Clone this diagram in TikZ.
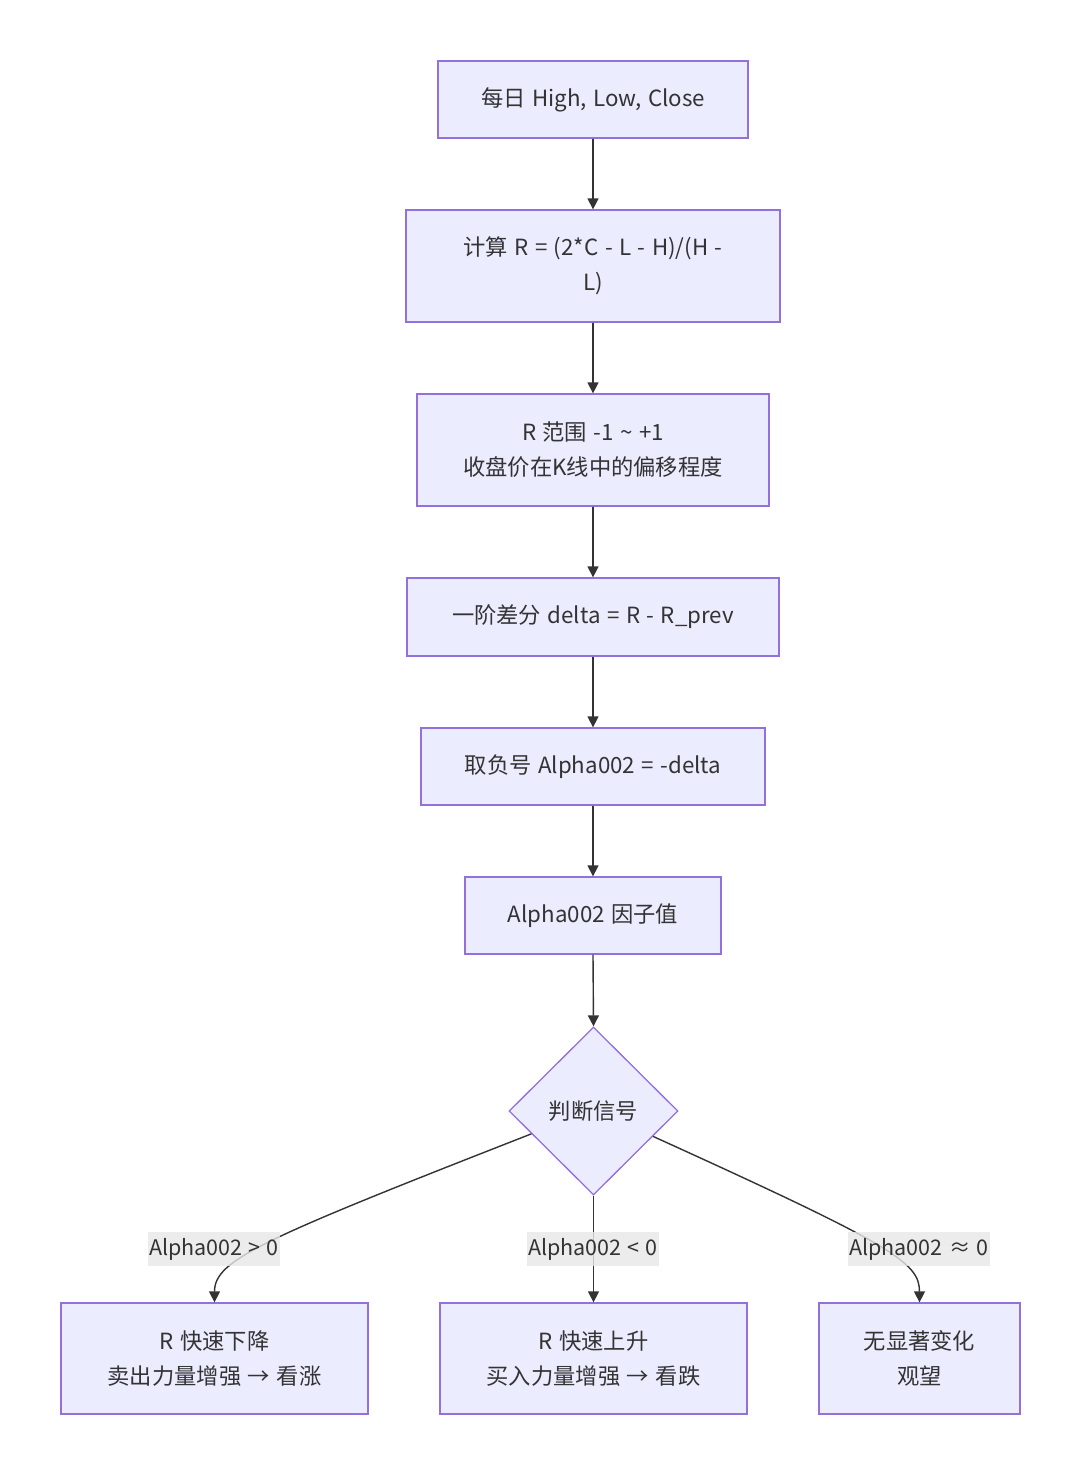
\documentclass[tikz,border=0pt]{standalone}
\usepackage{fontspec}
\setmainfont[WordSpace=1.3]{Noto Sans CJK SC}
\usetikzlibrary{shapes.geometric,arrows.meta,calc}
\definecolor{nodefill}{HTML}{ECECFF}
\definecolor{nodeline}{HTML}{9370DB}
\definecolor{edgecol}{HTML}{333333}
\definecolor{labelbg}{HTML}{E8E8E8}
\definecolor{txt}{HTML}{333333}
\begin{document}
\begin{tikzpicture}[x=1pt,y=-1pt,
  box/.style={draw=nodeline, fill=nodefill, line width=1.3pt, text=txt, align=center, inner sep=0pt, font=\fontsize{22.3}{35}\selectfont},
  decbox/.style={diamond, aspect=1, draw=nodeline, fill=nodefill, line width=1.3pt, text=txt, inner sep=0pt, minimum width=169, minimum height=168, font=\fontsize{22.3}{35}\selectfont},
  arr/.style={draw=edgecol, line width=1.4pt, -{Triangle[length=11pt,width=11pt]}},
  lbl/.style={fill=labelbg, fill opacity=0.8, text opacity=1, text=txt, inner xsep=1pt, inner ysep=0pt, minimum height=34, font=\fontsize{21.5}{25}\selectfont}
]
\useasboundingbox (0,0) rectangle (1080,1475);
\fill[white] (0,0) rectangle (1080,1475);

\node[box, minimum width=310, minimum height=77] (n1) at (593,99.5) {每日 High, Low, Close};
\node[box, minimum width=374, minimum height=112] (n2) at (593,266) {计算 R = (2*C - L - H)/(H -\\L)};
\node[box, minimum width=352, minimum height=112] (n3) at (593,450) {R 范围 -1 \textasciitilde{} +1\\收盘价在K线中的偏移程度};
\node[box, minimum width=372, minimum height=78] (n4) at (593,617) {一阶差分 delta = R - R\_prev};
\node[box, minimum width=344, minimum height=77] (n5) at (593,766.5) {取负号 Alpha002 = -delta};
\node[box, minimum width=256, minimum height=77] (n6) at (593,915.5) {Alpha002 因子值};
\node[decbox] (dec) at (593.5,1111) {判断信号};
\node[box, minimum width=307, minimum height=111] (b1) at (214.5,1358.5) {R 快速下降\\卖出力量增强 → 看涨};
\node[box, minimum width=307, minimum height=111] (b2) at (593.5,1358.5) {R 快速上升\\买入力量增强 → 看跌};
\node[box, minimum width=201, minimum height=111] (b3) at (919.5,1358.5) {无显著变化\\观望};

\draw[arr] (n1) -- (n2);
\draw[arr] (n2) -- (n3);
\draw[arr] (n3) -- (n4);
\draw[arr] (n4) -- (n5);
\draw[arr] (n5) -- (n6);
\draw[arr] (n6.south) -- (dec.north);

\coordinate (dl) at ($(dec.west)!0.27!(dec.south)$);
\coordinate (dr) at ($(dec.east)!0.3!(dec.south)$);
\draw[arr] (dl) .. controls (260,1240) and (214.5,1260) .. (b1.north);
\draw[arr] (dec.south) -- (b2.north);
\draw[arr] (dr) .. controls (892,1245) and (919.5,1262) .. (b3.north);

\node[lbl] (l1) at (214,1249) {Alpha002 > 0};
\node[lbl] (l2) at (593,1249) {Alpha002 < 0};
\node[lbl] (l3) at (919,1249) {Alpha002 ≈ 0};
\end{tikzpicture}
\end{document}
